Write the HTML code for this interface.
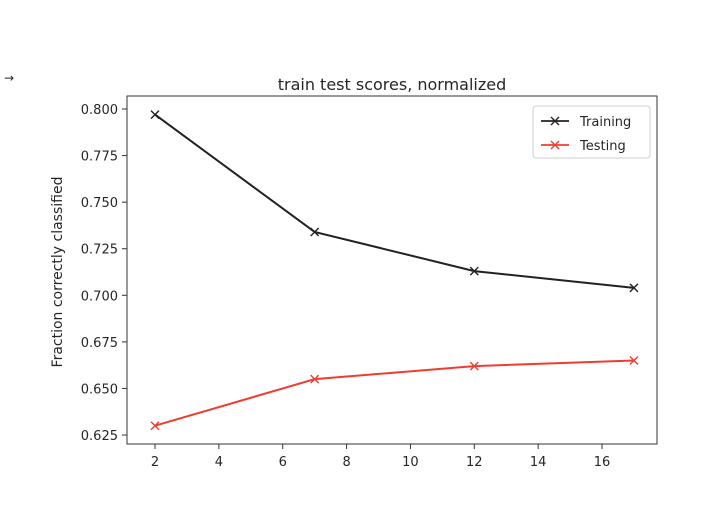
<!DOCTYPE html>
<html><head><meta charset="utf-8"><style>
body{margin:0;background:#fff;font-family:"Liberation Sans","DejaVu Sans",sans-serif}
svg text{font-family:"DejaVu Sans","Liberation Sans",sans-serif;fill:#262626}
</style></head><body>
<svg id="chart" width="704" height="512">
<text x="4" y="82" font-size="12">→</text>
<text x="392" y="90" font-size="16" text-anchor="middle">train test scores, normalized</text>
<text transform="translate(62,272) rotate(-90)" font-size="14" text-anchor="middle">Fraction correctly classified</text>
<g id="ticks"></g>
<g id="series"></g>
<rect x="127" y="96" width="530" height="348" fill="none" stroke="#333" stroke-width="1"/>
<g>
<rect x="533" y="106" width="117" height="52" rx="3" fill="#fff" stroke="#ccc"/>
<g>
<line x1="541" y1="121" x2="569" y2="121" stroke="#222" stroke-width="1.8"/>
<path d="M551 117l8 8M559 117l-8 8" stroke="#222" stroke-width="1.4"/>
<text x="580" y="126" font-size="13">Training</text></g>
<g>
<line x1="541" y1="145" x2="569" y2="145" stroke="#f03c30" stroke-width="1.8"/>
<path d="M551 141l8 8M559 141l-8 8" stroke="#f03c30" stroke-width="1.4"/>
<text x="580" y="150" font-size="13">Testing</text></g>
</g>
</svg>
<script>
const xValues=[2,7,12,17];
const training=[0.797,0.734,0.713,0.704];
const testing=[0.630,0.655,0.662,0.665];
const xTicks=[2,4,6,8,10,12,14,16];
const yTicks=[0.625,0.650,0.675,0.700,0.725,0.750,0.775,0.800];
const NS="http://www.w3.org/2000/svg";
const sx=v=>155+(v-2)*31.93;
const sy=v=>109+(0.8-v)*1863;
function el(t,a,p){const e=document.createElementNS(NS,t);for(const k in a)e.setAttribute(k,a[k]);p.appendChild(e);return e;}
const tk=document.getElementById('ticks');
xTicks.forEach(v=>{
 const l=el('line',{x1:sx(v),x2:sx(v),y1:444,y2:449,stroke:'#333'},tk);
 
 
 const t=el('text',{x:sx(v),y:466,'font-size':13,'text-anchor':'middle'},tk);t.textContent=v;
 
 
});
yTicks.forEach(v=>{
 const l=el('line',{x1:122,x2:127,y1:sy(v),y2:sy(v),stroke:'#333'},tk);
 
 
 const t=el('text',{x:118,y:sy(v)+5,'font-size':13,'text-anchor':'end'},tk);t.textContent=v.toFixed(3);
 
 
});
const sg=document.getElementById('series');
function draw(vals,color,name){
 const p=el('polyline',{points:vals.map((v,i)=>sx(xValues[i])+','+sy(v)).join(' '),fill:'none',stroke:color,'stroke-width':2},sg);
 
 
 vals.forEach((v,i)=>{const x=sx(xValues[i]),y=sy(v);
  const m=el('path',{d:`M${x-4} ${y-4}l8 8M${x+4} ${y-4}l-8 8`,stroke:color,'stroke-width':1.4},sg);
  
  
 });
}
draw(training,'#222','training');
draw(testing,'#f03c30','testing');
</script>
</body></html>
